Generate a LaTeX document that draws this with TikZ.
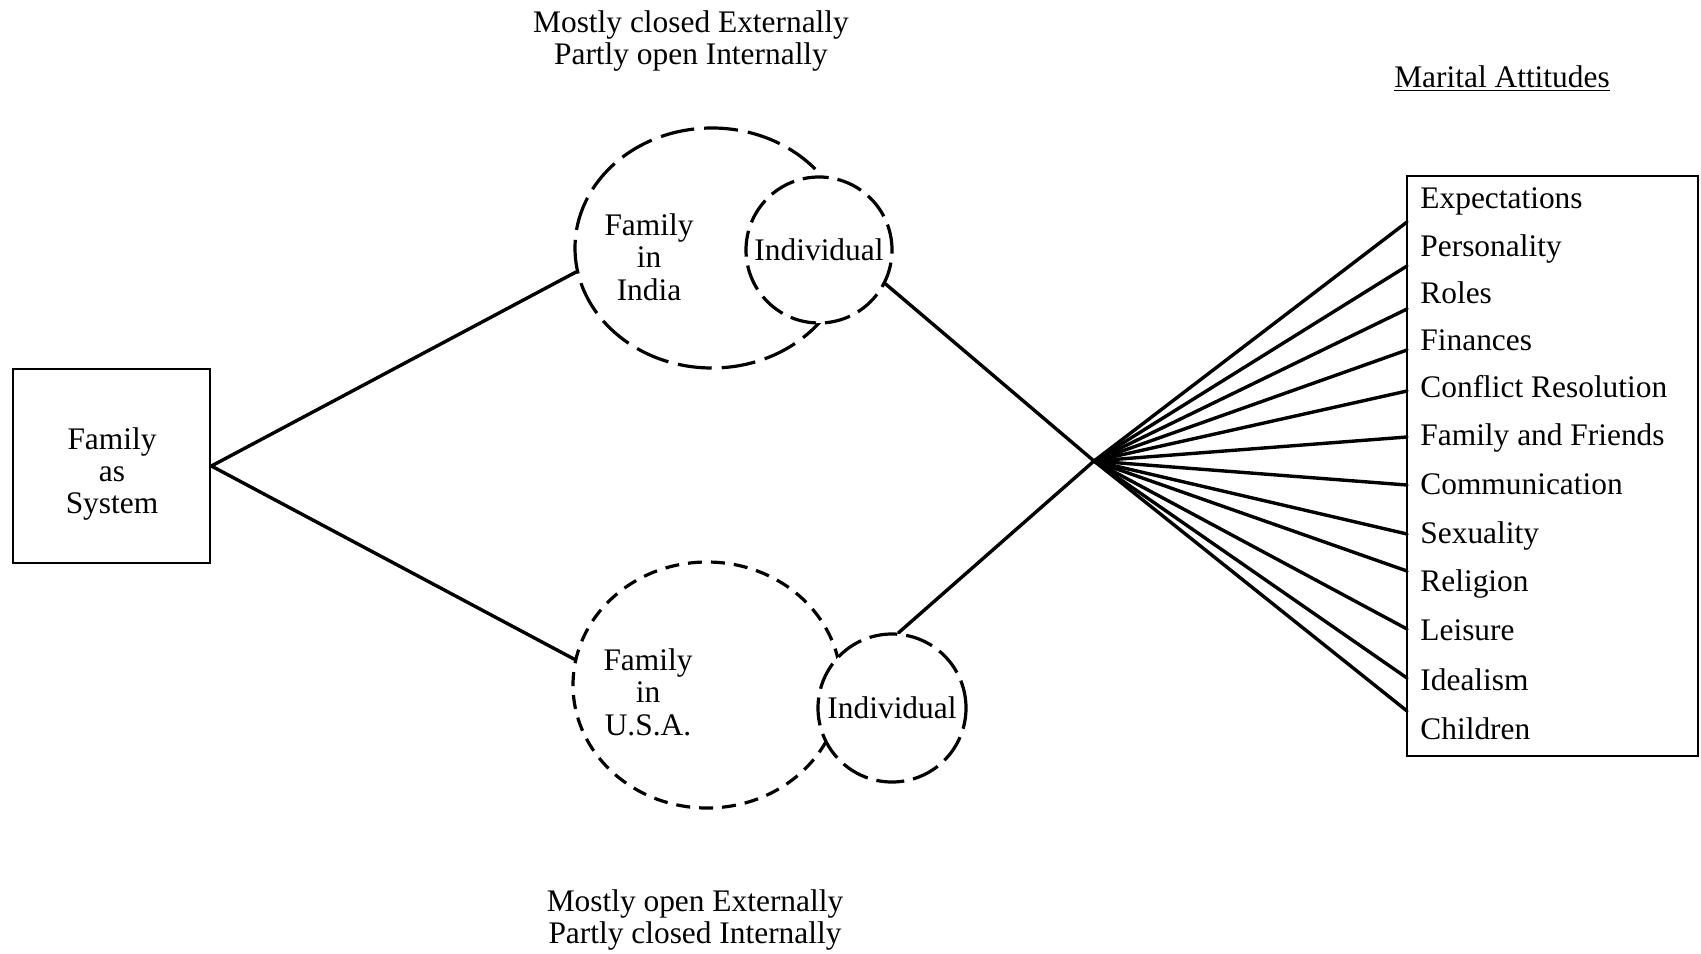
\documentclass[tikz,border=0pt]{standalone}
\usepackage{fontspec}
\setmainfont{Liberation Serif}
\usetikzlibrary{shapes.geometric}
\begin{document}
\begin{tikzpicture}[x=0.5pt,y=-0.5pt,
  txt/.style={font=\fontsize{15.7}{16.2}\selectfont, inner sep=0pt},
  conn/.style={line width=1.7pt, line cap=round},
  boxed/.style={draw, rectangle, line width=1.4pt, inner sep=0pt},
  famshape/.style={draw, ellipse, inner sep=0pt, line width=1.6pt},
  indshape/.style={draw, circle, fill=white, inner sep=0pt, line width=1.6pt, txt}]
\useasboundingbox (0,0) rectangle (1701,953);

% headings
\node[txt, align=center] (topnote) at (691,41) {Mostly closed Externally\\Partly open Internally};
\node[txt, align=center] (botnote) at (695,920) {Mostly open Externally\\Partly closed Internally};
\node[txt, anchor=base] (mtitle) at (1502,87) {\underline{Marital Attitudes}};

% family as system
\node[boxed, minimum width=98.5pt, minimum height=97pt] (famSys) at (111.5,466) {};
\node[txt, align=center] (famSysText) at (112,474) {Family\\as\\System};

% India
\node[famshape, minimum width=137pt, minimum height=120pt, dash pattern=on 17pt off 5pt] (famIndia) at (712,248) {};
\node[txt, align=center] (famIndiaText) at (649,257) {Family\\in\\India};
\node[indshape, minimum size=73pt, dash pattern=on 13pt off 4.5pt] (indIndia) at (819,250) {Individual};

% USA
\node[famshape, minimum width=134pt, minimum height=123pt, dash pattern=on 7pt off 4.5pt] (famUSA) at (707,685) {};
\node[txt, align=center] (famUSAText) at (648,692) {Family\\in\\U.S.A.};
\node[indshape, minimum size=74pt, dash pattern=on 14pt off 4.5pt] (indUSA) at (892,708) {Individual};

% attitudes box
\node[boxed, minimum width=145.5pt, minimum height=290pt] (attBox) at (1552.5,466) {};
\foreach \t/\y [count=\i] in {Expectations/208, Personality/256, Roles/303, Finances/350,
   Conflict Resolution/397, Family and Friends/445, Communication/494, Sexuality/543,
   Religion/591, Leisure/640, Idealism/690, Children/739}
  \node[txt, anchor=base west] (item\i) at (1420,\y) {\t};

% connectors
\coordinate (hub) at (1094,461);
\draw[conn] (famSys.east) -- (famIndia.190);
\draw[conn] (famSys.east) -- (famUSA.169);
\draw[conn] (indIndia.-27) -- (hub);
\draw[conn] (indUSA.85) -- (hub);
\foreach \y [count=\i] in {222,266,309,350,391,437,485,534,571,629,678,711} {
  \coordinate (end\i) at (1407,\y);
  \draw[conn] (hub) -- (end\i);
}
\end{tikzpicture}
\end{document}
